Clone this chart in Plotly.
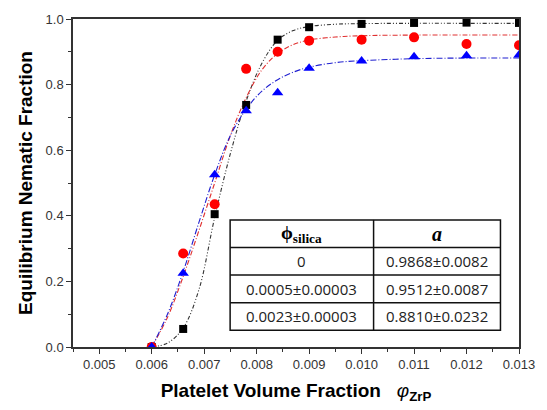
import plotly.graph_objects as go

# measured data
x_data = [0.0060, 0.0066, 0.0072, 0.0078, 0.0084, 0.0090, 0.0100, 0.0110, 0.0120, 0.0130]
y_black = [0.0, 0.055, 0.405, 0.738, 0.937, 0.975, 0.985, 0.988, 0.989, 0.988]
y_red = [0.0, 0.285, 0.435, 0.848, 0.900, 0.934, 0.937, 0.944, 0.924, 0.920]
y_blue = [0.0, 0.225, 0.525, 0.720, 0.775, 0.850, 0.872, 0.885, 0.888, 0.890]

# fitted curves
x_fit = [0.0060, 0.0063, 0.0066, 0.0069, 0.0072, 0.0075, 0.0078, 0.0081, 0.0084,
         0.0087, 0.0090, 0.0095, 0.0100, 0.0110, 0.0120, 0.0130]
fit_black = [0.0, 0.012, 0.058, 0.175, 0.395, 0.59, 0.75, 0.865, 0.935,
             0.965, 0.977, 0.984, 0.986, 0.9868, 0.9868, 0.9868]
fit_red = [0.0, 0.09, 0.215, 0.355, 0.50, 0.645, 0.76, 0.845, 0.895,
           0.922, 0.936, 0.945, 0.949, 0.951, 0.9512, 0.9512]
fit_blue = [0.0, 0.10, 0.23, 0.38, 0.525, 0.645, 0.725, 0.78, 0.815,
            0.838, 0.853, 0.867, 0.873, 0.879, 0.881, 0.881]

# inset table
table_header = ["<b>ϕ</b><b><sub>silica</sub></b>", "<b><i>a</i></b>"]
silica_labels = ["0", "0.0005±0.00003", "0.0023±0.00003"]
a_labels = ["0.9868±0.0082", "0.9512±0.0087", "0.8810±0.0232"]

fig = go.Figure()

fig.add_trace(go.Scatter(x=x_fit, y=fit_black, mode="lines", line_shape="spline",
                         line=dict(color="#333333", width=1.1, dash="4px,2px,1px,2px,1px,2px"),
                         showlegend=False, hoverinfo="skip"))
fig.add_trace(go.Scatter(x=x_fit, y=fit_red, mode="lines", line_shape="spline",
                         line=dict(color="#e03030", width=1.1, dash="5px,2px,1px,2px"),
                         showlegend=False, hoverinfo="skip"))
fig.add_trace(go.Scatter(x=x_fit, y=fit_blue, mode="lines", line_shape="spline",
                         line=dict(color="#2020d0", width=1.1, dash="6px,2px,1px,2px"),
                         showlegend=False, hoverinfo="skip"))

fig.add_trace(go.Scatter(x=x_data, y=y_black, mode="markers",
                         marker=dict(symbol="square", size=8, color="black"), showlegend=False))
fig.add_trace(go.Scatter(x=x_data, y=y_red, mode="markers",
                         marker=dict(symbol="circle", size=10, color="#ff0000"), showlegend=False))
fig.add_trace(go.Scatter(x=x_data, y=y_blue, mode="markers",
                         marker=dict(symbol="triangle-up", size=10, color="#0000ff"), showlegend=False))

# table drawing (paper coordinates)
L, R = 73, 530
T, B = 17, 350
W, H = 547, 410
def px(xp):
    return (xp - L) / (R - L)
def py(yp):
    return (B - yp) / (B - T)

tx0, tx1, tdiv = 234, 511, 381
row_edges = [221, 249, 277, 305, 333]
lw = 1.5
fig.add_shape(type="rect", xref="paper", yref="paper", x0=px(tx0), x1=px(tx1),
              y0=py(row_edges[-1]), y1=py(row_edges[0]),
              line=dict(color="#111111", width=lw), fillcolor="white", layer="above")
for ye in row_edges[1:-1]:
    fig.add_shape(type="line", xref="paper", yref="paper", x0=px(tx0), x1=px(tx1),
                  y0=py(ye), y1=py(ye), line=dict(color="#111111", width=lw))
fig.add_shape(type="line", xref="paper", yref="paper", x0=px(tdiv), x1=px(tdiv),
              y0=py(row_edges[-1]), y1=py(row_edges[0]), line=dict(color="#111111", width=lw))

col_centers = [(tx0 + tdiv) / 2, (tdiv + tx1) / 2]
rows = [table_header] + [[s, a] for s, a in zip(silica_labels, a_labels)]
for i, row in enumerate(rows):
    yc = (row_edges[i] + row_edges[i + 1]) / 2
    for j, txt in enumerate(row):
        if i == 0:
            font = dict(family="Liberation Serif, Times New Roman, serif", size=20 if j == 1 else 19, color="black")
        else:
            font = dict(family="Open Sans, Liberation Sans, sans-serif", size=15, color="#222222")
        fig.add_annotation(x=px(col_centers[j]), y=py(yc), xref="paper", yref="paper",
                           text=txt, showarrow=False, font=font, xanchor="center", yanchor="middle")

axis_common = dict(showline=True, linecolor="#333333", linewidth=1.5, mirror=True,
                   ticks="outside", ticklen=5, tickwidth=1, tickcolor="#333333",
                   showgrid=False, zeroline=False,
                   tickfont=dict(family="Liberation Sans, Arial, sans-serif", size=13, color="#333333"))

fig.update_xaxes(range=[0.0045, 0.013], tick0=0.005, dtick=0.001, tickformat=".3f",
                 minor=dict(ticks="outside", ticklen=3, tickcolor="#333333", tick0=0.0045, dtick=0.0005),
                 title=dict(text="<b>Platelet Volume Fraction</b>   <i>φ</i><sub><b>ZrP</b></sub>",
                            font=dict(family="Liberation Sans, Arial, sans-serif", size=19, color="black"),
                            standoff=12),
                 **axis_common)
fig.update_yaxes(range=[0, 1], dtick=0.2, tickformat=".1f",
                 minor=dict(ticks="outside", ticklen=3, tickcolor="#333333", dtick=0.1),
                 title=dict(text="<b>Equilibrium Nematic Fraction</b>",
                            font=dict(family="Liberation Sans, Arial, sans-serif", size=19, color="black"),
                            standoff=8),
                 **axis_common)

fig.update_layout(width=W, height=H, margin=dict(l=L, r=W - R, t=T, b=H - B),
                  plot_bgcolor="white", paper_bgcolor="white", showlegend=False)

fig.write_html("out.html")
